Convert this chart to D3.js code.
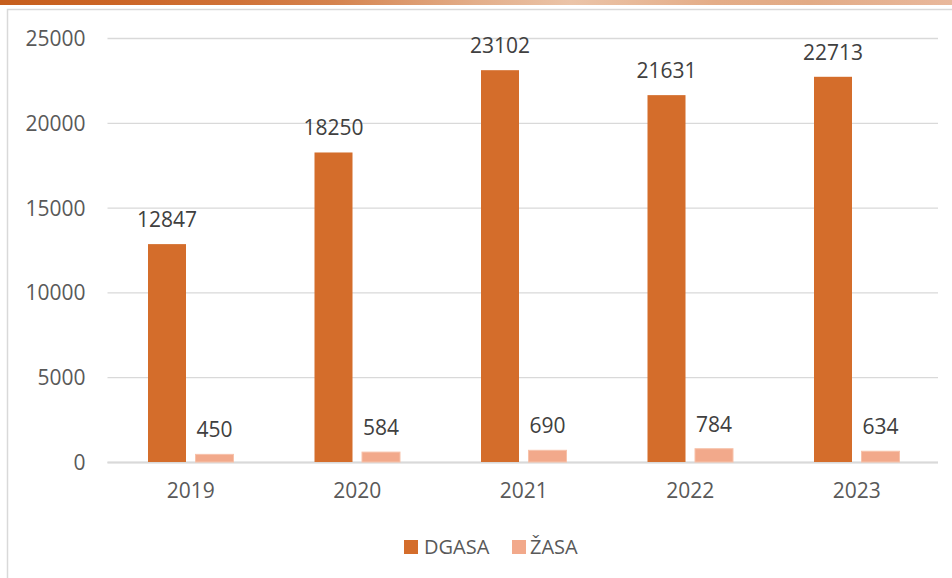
<!DOCTYPE html>
<html>
<head>
<meta charset="utf-8">
<script src="https://cdn.jsdelivr.net/npm/d3@7"></script>
<style>
  html, body { margin: 0; padding: 0; background: #ffffff; }
  svg { display: block; }
  text { font-family: "Open Sans", "Liberation Sans", sans-serif; }
</style>
</head>
<body>
<svg id="chart" width="952" height="578"></svg>
<script>
const categories = ["2019", "2020", "2021", "2022", "2023"];
const seriesNames = ["DGASA", "ŽASA"];
const dgasa = [12847, 18250, 23102, 21631, 22713];
const zasa = [450, 584, 690, 784, 634];
const yTicks = [0, 5000, 10000, 15000, 20000, 25000];
const colors = ["#d46d2b", "#f2a98b"];
const strokes = ["none", "#f7c2aa"];

const svg = d3.select("#chart");
const W = 952, H = 578;

// decorative top strip
const defs = svg.append("defs");
const grad = defs.append("linearGradient").attr("id", "strip").attr("x1", "0").attr("x2", "1").attr("y1", "0").attr("y2", "0");
[[0, "#c65e1c"], [0.12, "#cb6526"], [0.25, "#d07238"], [0.35, "#d5834e"], [0.5, "#e3ae8a"], [0.6, "#ebc4a8"], [0.75, "#e4ad88"], [0.85, "#e2ab86"], [1, "#e9b89c"]]
  .forEach(([o, c]) => grad.append("stop").attr("offset", o).attr("stop-color", c));
svg.append("rect").attr("x", 0).attr("y", 0).attr("width", W).attr("height", 5).attr("fill", "url(#strip)");

// chart frame
svg.append("path")
  .attr("d", `M7.5,${H} L7.5,9.5 L${W},9.5`)
  .attr("fill", "none").attr("stroke", "#d9d9d9").attr("stroke-width", 1.5);

const plot = { left: 107.5, right: 940, top: 38, bottom: 462 };

const x = d3.scaleBand().domain(categories).range([plot.left, plot.right]).paddingInner(0).paddingOuter(0);
const y = d3.scaleLinear().domain([0, 25000]).range([plot.bottom, plot.top]);

const barW = 38, gap = 9.5;

// gridlines
const grid = svg.append("g").attr("class", "grid")
  .call(d3.axisLeft(y).tickValues(yTicks).tickSize(-(plot.right - plot.left - 2)).tickFormat(""))
  .attr("transform", `translate(${plot.left},0)`);
grid.select(".domain").remove();
grid.selectAll(".tick line").attr("stroke", "#d9d9d9").attr("stroke-width", 1.3);

// y tick labels
const yAxis = svg.append("g")
  .attr("transform", `translate(${plot.left},0)`)
  .call(d3.axisLeft(y).tickValues(yTicks).tickSize(0).tickPadding(22).tickFormat(d => String(d)));
yAxis.select(".domain").remove();
yAxis.selectAll("text").attr("fill", "#595959").attr("font-size", 21).attr("dy", "0.36em")
  .style("font-family", '"Open Sans", "Liberation Sans", sans-serif');

// x axis line
svg.append("line")
  .attr("x1", plot.left).attr("x2", plot.right - 2)
  .attr("y1", y(0) + 0.5).attr("y2", y(0) + 0.5)
  .attr("stroke", "#d9d9d9").attr("stroke-width", 2);

const xAxis = svg.append("g")
  .attr("transform", `translate(0,${plot.bottom})`)
  .call(d3.axisBottom(x).tickSize(0).tickPadding(21));
xAxis.select(".domain").remove();
xAxis.selectAll("text").attr("fill", "#595959").attr("font-size", 21)
  .style("font-family", '"Open Sans", "Liberation Sans", sans-serif');

// bars
const data = categories.map((c, i) => ({ cat: c, vals: [dgasa[i], zasa[i]] }));
const groupW = barW * 2 + gap;
const groups = svg.selectAll("g.grp").data(data).enter().append("g")
  .attr("class", "grp")
  .attr("transform", d => `translate(${x(d.cat) + x.bandwidth() / 2 - groupW / 2},0)`);

groups.selectAll("rect").data(d => d.vals.map((v, k) => ({ v, k })))
  .enter().append("rect")
  .attr("x", d => d.k * (barW + gap))
  .attr("y", d => y(d.v))
  .attr("width", barW)
  .attr("height", d => y(0) - y(d.v))
  .attr("fill", d => colors[d.k])
  .attr("stroke", d => strokes[d.k])
  .attr("stroke-width", 1);

groups.selectAll("text.lbl").data(d => d.vals.map((v, k) => ({ v, k })))
  .enter().append("text")
  .attr("class", "lbl")
  .attr("x", d => d.k * (barW + gap) + barW / 2)
  .attr("y", d => y(d.v) - 17)
  .attr("text-anchor", "middle")
  .attr("font-size", 21)
  .attr("fill", "#404040")
  .text(d => d.v);

// legend
const legend = svg.append("g");
const legendItems = [
  { name: seriesNames[0], color: colors[0], sx: 404, tx: 424 },
  { name: seriesNames[1], color: colors[1], sx: 512, tx: 530 }
];
legendItems.forEach(it => {
  legend.append("rect").attr("x", it.sx).attr("y", 540).attr("width", 14).attr("height", 14).attr("fill", it.color);
  legend.append("text").attr("x", it.tx).attr("y", 554).attr("font-size", 20).attr("fill", "#595959").text(it.name);
});
</script>
</body>
</html>
